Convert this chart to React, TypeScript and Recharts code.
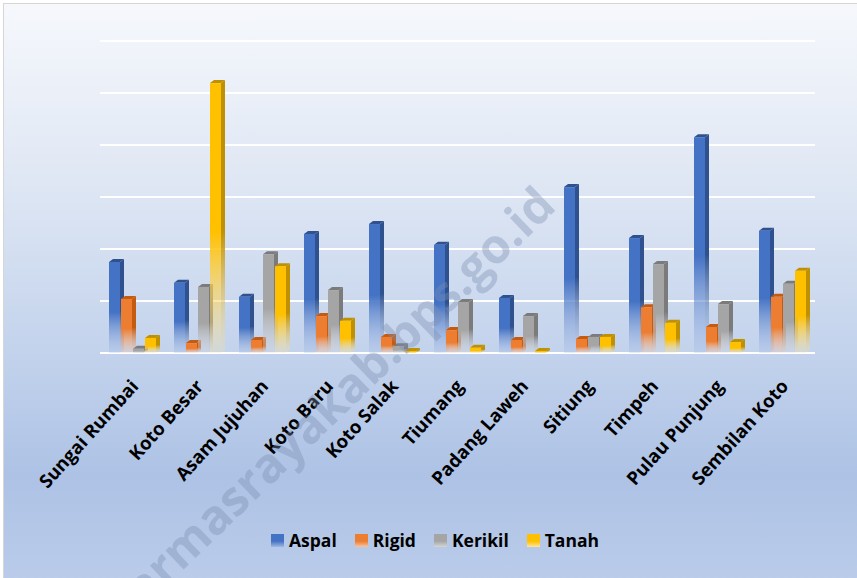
import React from "react";
import { BarChart, Bar, XAxis, YAxis, CartesianGrid, Legend } from "recharts";

const categories = [
  "Sungai Rumbai", "Koto Besar", "Asam Jujuhan", "Koto Baru", "Koto Salak", "Tiumang",
  "Padang Laweh", "Sitiung", "Timpeh", "Pulau Punjung", "Sembilan Koto",
];
const aspal = [17.5, 13.5, 10.8, 22.9, 24.8, 20.8, 10.6, 31.9, 22.1, 41.5, 23.5];
const rigid = [10.4, 1.9, 2.5, 7.1, 3.1, 4.4, 2.5, 2.7, 8.8, 5.0, 10.8];
const kerikil = [0.8, 12.7, 19.0, 12.1, 1.3, 9.8, 7.1, 3.1, 17.1, 9.4, 13.3];
const tanah = [2.9, 51.9, 16.7, 6.2, 0.4, 1.0, 0.4, 3.1, 5.8, 2.1, 15.8];
const yTicks = [0, 10, 20, 30, 40, 50, 60];

const seriesInfo = [
  { key: "Aspal", color: "#4472c4", dark: "#2f528f", light: "#9fb7e3" },
  { key: "Rigid", color: "#ed7d31", dark: "#c55a11", light: "#f6c6a6" },
  { key: "Kerikil", color: "#a5a5a5", dark: "#7b7b7b", light: "#d6d6d6" },
  { key: "Tanah", color: "#ffc000", dark: "#bf9000", light: "#fde6a0" },
];

const data = categories.map((name, i) => ({
  name,
  Aspal: aspal[i],
  Rigid: rigid[i],
  Kerikil: kerikil[i],
  Tanah: tanah[i],
}));

const FONT = "'Open Sans', 'Noto Sans', sans-serif";

const make3D = (idx: number) => (props: any) => {
  const { x, y, width, height } = props;
  if (height == null || isNaN(height)) return null;
  const w = width;
  const h = Math.max(height, 1);
  const yy = height < 1 ? y - 1 : y;
  const d = 4;
  const dy = 3;
  const s = seriesInfo[idx];
  return (
    <g>
      <polygon
        points={`${x + w},${yy} ${x + w + d},${yy - dy} ${x + w + d},${yy + h - dy} ${x + w},${yy + h}`}
        fill={`url(#side${idx})`}
      />
      <polygon
        points={`${x},${yy} ${x + d},${yy - dy} ${x + w + d},${yy - dy} ${x + w},${yy}`}
        fill={s.dark}
      />
      <rect x={x} y={yy} width={w} height={h} fill={`url(#front${idx})`} />
    </g>
  );
};

const Tick = (props: any) => {
  const { x, y, payload } = props;
  return (
    <g transform={`translate(${x + 7},${y + 26})`}>
      <text
        textAnchor="end"
        transform="rotate(-48)"
        fontFamily={FONT}
        fontWeight={700}
        fontSize={18.5}
        fill="#000"
      >
        {payload.value}
      </text>
    </g>
  );
};

const LegendContent = () => (
  <div
    style={{
      display: "flex",
      justifyContent: "center",
      alignItems: "center",
      height: 30,
      fontFamily: FONT,
      fontWeight: 700,
      fontSize: 17.5,
      color: "#000",
    }}
  >
    {seriesInfo.map((s) => (
      <div key={s.key} style={{ display: "flex", alignItems: "center", margin: "0 9px" }}>
        <div
          style={{
            width: 13,
            height: 13,
            marginRight: 5,
            background: `linear-gradient(to bottom, ${s.color} 0%, ${s.color} 55%, ${s.light} 100%)`,
          }}
        />
        <span>{s.key}</span>
      </div>
    ))}
  </div>
);

export default function App() {
  return (
    <div
      style={{
        position: "absolute",
        left: 0,
        top: 0,
        width: 857,
        height: 578,
        overflow: "hidden",
        background: "#ffffff",
      }}
    >
      <div
        style={{
          position: "absolute",
          left: 3,
          top: 3,
          width: 870,
          height: 590,
          border: "1px solid #d6d6d6",
          background:
            "linear-gradient(to bottom, #f6f8fc 0%, #dfe7f4 30%, #c2d2ec 60%, #adc2e5 80%, #bccdea 100%)",
        }}
      />
      <div style={{ position: "absolute", left: 0, top: 0 }}>
        <BarChart
          width={857}
          height={578}
          data={data}
          margin={{ top: 41, right: 42, left: 100, bottom: 0 }}
          barSize={11}
          barGap={1}
        >
          <defs>
            {seriesInfo.map((s, i) => (
              <React.Fragment key={s.key}>
                <linearGradient id={`front${i}`} x1="0" y1="0" x2="0" y2="1">
                  <stop offset="0%" stopColor={s.color} stopOpacity={1} />
                  <stop offset="55%" stopColor={s.color} stopOpacity={1} />
                  <stop offset="100%" stopColor={s.light} stopOpacity={0.25} />
                </linearGradient>
                <linearGradient id={`side${i}`} x1="0" y1="0" x2="0" y2="1">
                  <stop offset="0%" stopColor={s.dark} stopOpacity={1} />
                  <stop offset="55%" stopColor={s.dark} stopOpacity={1} />
                  <stop offset="100%" stopColor={s.light} stopOpacity={0.25} />
                </linearGradient>
              </React.Fragment>
            ))}
          </defs>
          <CartesianGrid vertical={false} stroke="#ffffff" strokeWidth={2} />
          <XAxis
            dataKey="name"
            interval={0}
            height={195}
            tick={<Tick />}
            tickLine={false}
            axisLine={false}
          />
          <YAxis hide domain={[0, 60]} ticks={yTicks} />
          <Legend
            verticalAlign="bottom"
            content={<LegendContent />}
            wrapperStyle={{ left: 0, width: 870, bottom: 23 }}
          />
          {seriesInfo.map((s, i) => (
            <Bar
              key={s.key}
              dataKey={s.key}
              fill={s.color}
              shape={make3D(i)}
              isAnimationActive={false}
            />
          ))}
        </BarChart>
      </div>
      <svg
        width={857}
        height={578}
        style={{ position: "absolute", left: 0, top: 0, pointerEvents: "none" }}
      >
        <text
          x={320}
          y={420}
          textAnchor="middle"
          dominantBaseline="middle"
          transform="rotate(-44 320 420)"
          fontFamily={FONT}
          fontWeight={700}
          fontSize={48}
          fill="#7b8fb0"
          fillOpacity={0.38}
        >
          dharmasrayakab.bps.go.id
        </text>
      </svg>
    </div>
  );
}
